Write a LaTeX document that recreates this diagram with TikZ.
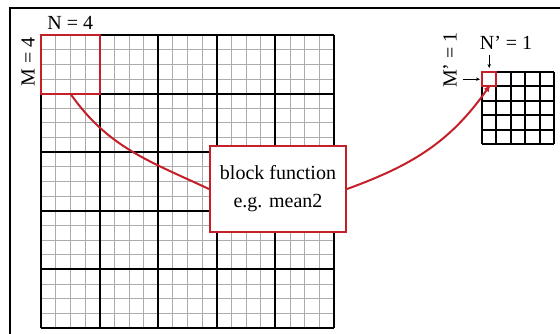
\documentclass[tikz,border=0pt]{standalone}
\usepackage{fontspec}
\setmainfont{Liberation Serif}
\usetikzlibrary{positioning, arrows.meta}
\definecolor{dkred}{RGB}{196,32,42}

\begin{document}
\begin{tikzpicture}[x=1pt,y=-1pt,
    lbl/.style={font=\fontsize{20}{28}\selectfont,inner sep=0pt},
    fine/.style={draw=gray!65,line width=0.8pt},
    coarse/.style={draw=black,line width=2pt},
    hilite/.style={draw=dkred,line width=2pt,inner sep=0pt,outer sep=0pt},
    link/.style={dkred,line width=2pt},
    ptr/.style={-{Stealth[length=4pt,width=3.5pt]},line width=0.8pt}]
  \useasboundingbox (0,0) rectangle (560,334);
  \draw[line width=2pt] (10,8) rectangle (564,338);
  % large matrix
  \foreach \i in {0,...,20} {
    \draw[fine] (41+14.65*\i,35) -- ++(0,293);
    \draw[fine] (41,35+14.65*\i) -- ++(293,0);
  }
  \foreach \i in {0,...,5} {
    \draw[coarse] (41+58.6*\i,35) -- ++(0,293);
    \draw[coarse] (41,35+58.6*\i) -- ++(293,0);
  }
  % small matrix
  \foreach \i in {0,...,5} {
    \draw[coarse] (482+14.4*\i,72) -- ++(0,72);
    \draw[coarse] (482,72+14.4*\i) -- ++(72,0);
  }
  \node[hilite,minimum size=58.6pt,anchor=north west](blk) at (41,35){};
  \node[hilite,minimum size=14.4pt,anchor=north west](cell) at (482,72){};
  % labels
  \node[lbl,above=5pt of blk](nlab){N = 4};
  \node[lbl,rotate=90](mlab) at (28,62){M = 4};
  \node[lbl](nplab) at (506,43){N' = 1};
  \node[lbl,rotate=90](mplab) at (450,60){M' = 1};
  \draw[ptr,shorten <=5pt,shorten >=4pt](nplab.south -| cell.north)--(cell.north);
  \draw[ptr,shorten <=6pt,shorten >=2pt](mplab.south |- cell.west)--(cell.west);
  % block function
  \node[lbl,draw=dkred,line width=2pt,fill=white,minimum width=136pt,
        minimum height=86pt,align=center](box) at (278,189){block function\\e.g. mean2};
  \draw[link](blk.south) to[out=-55,in=155](box.west);
  \draw[link,-{Latex[length=8pt,width=6pt]},shorten >=-3pt](box.east) to[out=20,in=235](cell.south);
\end{tikzpicture}
\end{document}
